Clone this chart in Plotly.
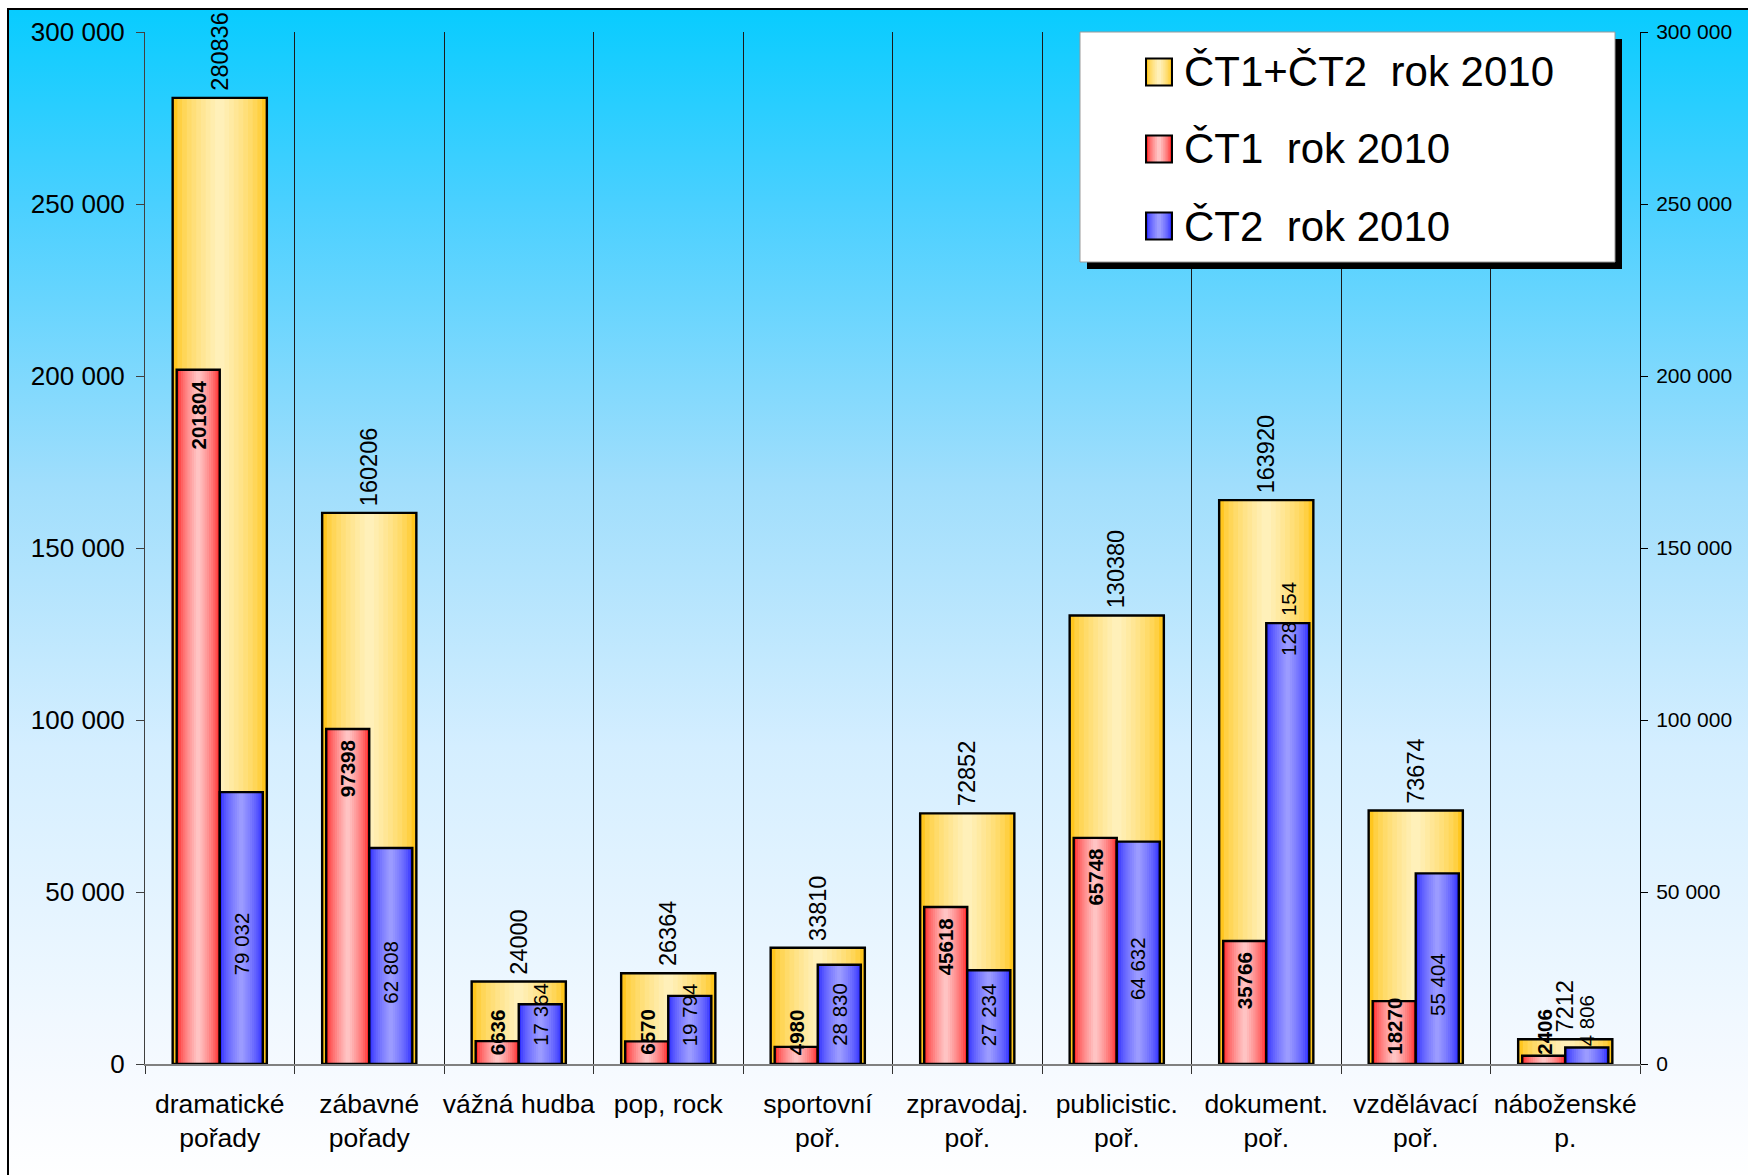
import base64
import plotly.graph_objects as go

# ---------------- data ----------------
categories = ["dramatické<br>pořady", "zábavné<br>pořady", "vážná hudba", "pop, rock",
              "sportovní<br>poř.", "zpravodaj.<br>poř.", "publicistic.<br>poř.",
              "dokument.<br>poř.", "vzdělávací<br>poř.", "náboženské<br>p."]
total_2010 = [280836, 160206, 24000, 26364, 33810, 72852, 130380, 163920, 73674, 7212]
ct1_2010 = [201804, 97398, 6636, 6570, 4980, 45618, 65748, 35766, 18270, 2406]
ct2_2010 = [79032, 62808, 17364, 19794, 28830, 27234, 64632, 128154, 55404, 4806]
series_names = ["ČT1+ČT2\u00a0 rok 2010", "ČT1\u00a0 rok 2010", "ČT2\u00a0 rok 2010"]
y_ticks = [0, 50000, 100000, 150000, 200000, 250000, 300000]
y_max = 300000

# ---------------- style / layout constants ----------------
FONT = "Liberation Sans, Arial, sans-serif"
W, H = 1748, 1175
ML, MR, MT, MB = 145, 108, 32, 111
PW, PH = W - ML - MR, H - MT - MB
PPU = PH / y_max  # pixels per data unit (for label placement rules)

YEL_EDGE, YEL_MID = (255, 198, 30), (255, 240, 185)
RED_EDGE, RED_MID = (255, 40, 40), (255, 195, 195)
BLU_EDGE, BLU_MID = (45, 45, 255), (155, 155, 255)

YEL_W = 0.63
PAIR_W = 0.288
BLUE_LABEL_AT_TOP = {"dokument.<br>poř."}


def px_x(x):
    return (x - ML) / PW


def px_y(y):
    return 1 - (y - MT) / PH


def mix(c1, c2, t):
    return "rgb(%d,%d,%d)" % tuple(round(a + (b - a) * t) for a, b in zip(c1, c2))


fig = go.Figure()


def add_gradient_bars(values, name, center, width, edge, mid, K=10, yaxis="y"):
    for k in range(K):
        frac = 1 - k / K
        w = width * frac
        t = (k / (K - 1)) ** 0.65
        fig.add_trace(go.Bar(
            x=categories, y=values, width=w, offset=center - w / 2,
            marker=dict(color=mix(edge, mid, t), line=dict(width=0)),
            name=name, showlegend=False, hoverinfo="skip"))
    fig.add_trace(go.Bar(
        x=categories, y=values, width=width, offset=center - width / 2,
        marker=dict(color="rgba(0,0,0,0)", line=dict(color="black", width=2.4)),
        name=name, showlegend=False, yaxis=yaxis))


add_gradient_bars(total_2010, series_names[0], 0.0, YEL_W, YEL_EDGE, YEL_MID)
add_gradient_bars(ct1_2010, series_names[1], -PAIR_W / 2, PAIR_W, RED_EDGE, RED_MID)
add_gradient_bars(ct2_2010, series_names[2], PAIR_W / 2, PAIR_W, BLU_EDGE, BLU_MID, yaxis="y2")

# ---------------- value labels ----------------
annotations = []
LBL = 20.5
TOT = 23.5


def est_len(text, size):
    return sum(0.278 if ch == " " else 0.556 for ch in text) * size


for i, cat in enumerate(categories):
    # totals
    annotations.append(dict(
        x=i, y=total_2010[i], xref="x", yref="y", text=str(total_2010[i]),
        textangle=-90, showarrow=False, xanchor="center", yanchor="bottom", yshift=5,
        font=dict(family=FONT, size=TOT, color="black")))
    # CT1 (bold)
    t1 = str(ct1_2010[i])
    L1 = est_len(t1, LBL)
    if ct1_2010[i] * PPU >= L1 + 18:
        y, ya, ys = ct1_2010[i], "top", -9
    else:
        y, ya, ys = 0, "bottom", 7
    annotations.append(dict(
        x=i - PAIR_W / 2, y=y, xref="x", yref="y", text="<b>%s</b>" % t1,
        textangle=-90, showarrow=False, xanchor="center", yanchor=ya, yshift=ys,
        font=dict(family=FONT, size=LBL, color="black")))
    # CT2
    t2 = "{:,}".format(ct2_2010[i]).replace(",", " ")
    L2 = est_len(t2, LBL)
    if cat in BLUE_LABEL_AT_TOP:
        y, ya, ys = ct2_2010[i], "middle", 4
    elif ct2_2010[i] * PPU / 2 - 16 - L2 / 2 >= 16:
        y, ya, ys = ct2_2010[i] / 2, "middle", -16
    else:
        y, ya, ys = 0, "bottom", 16
    annotations.append(dict(
        x=i + PAIR_W / 2, y=y, xref="x", yref="y", text=t2,
        textangle=-90, showarrow=False, xanchor="center", yanchor=ya, yshift=ys,
        font=dict(family=FONT, size=LBL, color="black")))

# ---------------- background gradient ----------------
stops = [(0.0, (8, 204, 255)), (0.166, (74, 208, 255)), (0.404, (160, 222, 252)),
         (0.627, (212, 238, 255)), (0.905, (246, 250, 255)), (1.0, (255, 255, 255))]
svg = ('<svg xmlns="http://www.w3.org/2000/svg" width="100" height="100" viewBox="0 0 100 100" '
       'preserveAspectRatio="none"><defs><linearGradient id="g" x1="0" y1="0" x2="0" y2="1">'
       + "".join('<stop offset="%g" stop-color="rgb(%d,%d,%d)"/>' % (o, *c) for o, c in stops)
       + '</linearGradient></defs><rect x="0" y="0" width="100" height="100" fill="url(#g)"/></svg>')
bg_src = "data:image/svg+xml;base64," + base64.b64encode(svg.encode()).decode()

images = [dict(source=bg_src, xref="paper", yref="paper", x=px_x(8), y=px_y(9),
               sizex=(W + 10 - 8) / PW, sizey=(H + 10 - 9) / PH, xanchor="left", yanchor="top",
               sizing="stretch", layer="below")]

# ---------------- shapes: frame + legend ----------------
shapes = [dict(type="rect", xref="paper", yref="paper", x0=px_x(8), y0=px_y(9),
               x1=px_x(W + 20), y1=px_y(H + 20), line=dict(color="black", width=2),
               fillcolor="rgba(0,0,0,0)", layer="above")]

LX0, LX1, LY0, LY1 = 1080, 1615, 32, 262
SH = 7
shapes.append(dict(type="rect", xref="paper", yref="paper", x0=px_x(LX0 + SH), x1=px_x(LX1 + SH),
                   y0=px_y(LY0 + SH), y1=px_y(LY1 + SH), fillcolor="black", line=dict(width=0),
                   layer="above"))
shapes.append(dict(type="rect", xref="paper", yref="paper", x0=px_x(LX0), x1=px_x(LX1),
                   y0=px_y(LY0), y1=px_y(LY1), fillcolor="white",
                   line=dict(color="#9a9a9a", width=1), layer="above"))

row_y = [72, 149, 226]
sym_cols = [(YEL_EDGE, YEL_MID), (RED_EDGE, RED_MID), (BLU_EDGE, BLU_MID)]
SX0, SX1, SHH = 1146, 1172, 27
for (edge, mid), ry, nm in zip(sym_cols, row_y, series_names):
    K = 6
    for k in range(K):
        frac = 1 - k / K
        w = (SX1 - SX0) * frac
        cx = (SX0 + SX1) / 2
        shapes.append(dict(type="rect", xref="paper", yref="paper",
                           x0=px_x(cx - w / 2), x1=px_x(cx + w / 2),
                           y0=px_y(ry - SHH / 2), y1=px_y(ry + SHH / 2),
                           fillcolor=mix(edge, mid, (k / (K - 1)) ** 0.65),
                           line=dict(width=0), layer="above"))
    shapes.append(dict(type="rect", xref="paper", yref="paper", x0=px_x(SX0), x1=px_x(SX1),
                       y0=px_y(ry - SHH / 2), y1=px_y(ry + SHH / 2), fillcolor="rgba(0,0,0,0)",
                       line=dict(color="black", width=2), layer="above"))
    annotations.append(dict(x=px_x(1182), y=px_y(ry), xref="paper", yref="paper", text=nm,
                            showarrow=False, xanchor="left", yanchor="middle",
                            font=dict(family=FONT, size=42, color="black")))

# ---------------- layout ----------------
fig.update_layout(
    width=W, height=H, margin=dict(l=ML, r=MR, t=MT, b=MB, pad=0, autoexpand=False),
    paper_bgcolor="white", plot_bgcolor="rgba(0,0,0,0)",
    barmode="overlay", separators=", ", showlegend=False,
    font=dict(family=FONT, color="black"),
    xaxis=dict(type="category", range=[-0.5, 9.5], tickson="boundaries", ticks="outside",
               ticklen=8, tickcolor="#333333", showgrid=True, gridcolor="#1a1a1a", gridwidth=1,
               showline=True, linecolor="#808080", linewidth=2, tickangle=0, automargin=False,
               tickfont=dict(family=FONT, size=26.5, color="black"), ticklabelstandoff=15),
    yaxis=dict(range=[0, y_max], tickvals=y_ticks, tickformat=",d", ticks="outside", ticklen=8,
               tickcolor="#404040", showline=True, linecolor="#404040", linewidth=1,
               showgrid=False, zeroline=False, automargin=False,
               tickfont=dict(family=FONT, size=26, color="black"), ticklabelstandoff=6),
    yaxis2=dict(range=[0, y_max], tickvals=y_ticks, tickformat=",d", overlaying="y",
                side="right", ticks="outside", ticklen=7, tickcolor="black", showline=True,
                linecolor="black", linewidth=1, showgrid=False, zeroline=False, automargin=False,
                tickfont=dict(family=FONT, size=21, color="black"), ticklabelstandoff=4),
    annotations=annotations, shapes=shapes, images=images,
)

fig.write_html("out.html", config={"displayModeBar": False},
               post_script="document.body.style.margin='0';document.body.style.overflow='hidden';")
